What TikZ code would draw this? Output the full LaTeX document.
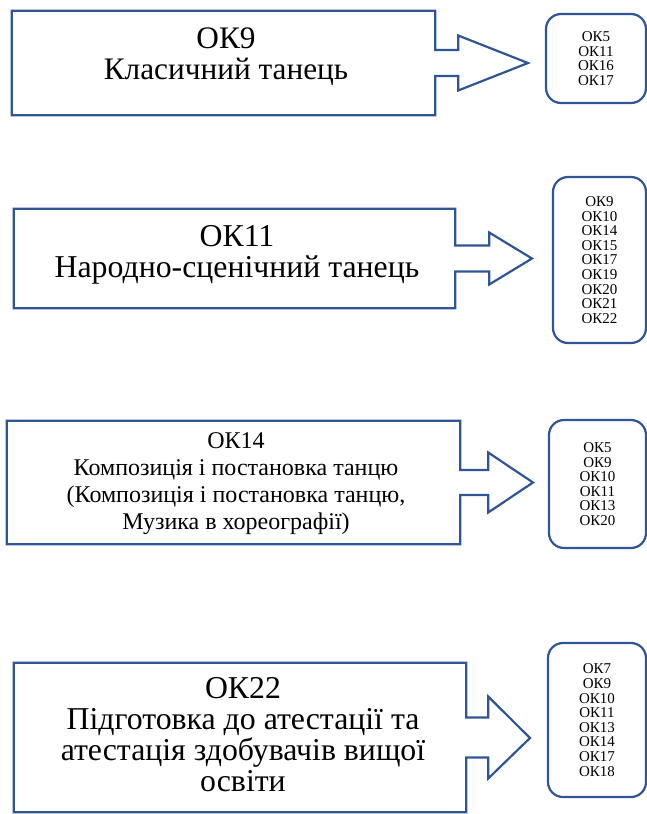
\documentclass[tikz,border=0pt]{standalone}
\usepackage{fontspec}
\setmainfont{Liberation Serif}
\usepackage{tikz}
\definecolor{ocblue}{HTML}{2F5597}
\tikzset{
	x=1pt, y=-1pt, % work in pixel-like units, y going down
	outline/.style={draw=ocblue, line width=2.2pt, line join=miter}, % rectangle with arrow
	block/.style={inner sep=0pt}, % invisible frame of the rectangle
	title/.style={align=center, inner sep=0pt, font=\rmfamily}, % text inside the rectangle
	list/.style={draw=ocblue, line width=2.2pt, rounded corners=15pt, align=center, inner sep=0pt,
		font=\rmfamily\fontsize{15}{14.6}\selectfont}, % rounded box with the codes
}
% #1 node, #2 shaft length, #3 shaft half width, #4 head half width, #5 tip
\newcommand{\arrowbox}[5]{%
	\draw[outline] (#1.north west) -- (#1.north east) -- ([yshift=#3]#1.east)
		-- ([xshift=#2,yshift=#3]#1.east) -- ([xshift=#2,yshift=#4]#1.east) -- (#5)
		-- ([xshift=#2,yshift=-#4]#1.east) -- ([xshift=#2,yshift=-#3]#1.east)
		-- ([yshift=-#3]#1.east) -- (#1.south east) -- (#1.south west) -- cycle;}

\begin{document}
\begin{tikzpicture}
	\useasboundingbox (0,0) rectangle (647,814);
	
	% OK9
	\node[block, minimum width=423pt, minimum height=104pt] (ok9) at (223.5,63) {};
	\node[title, font=\fontsize{31.3}{31}\selectfont] (ok9txt) at (226,57) {ОК9\\Класичний танець};
	\coordinate (ok9tip) at (528,63);
	\arrowbox{ok9}{23pt}{13pt}{27.5pt}{ok9tip}
	\node[list, minimum width=100pt, minimum height=89pt] (ok9list) at (596,58.5) {ОК5\\ОК11\\ОК16\\ОК17};
	
	% OK11
	\node[block, minimum width=441pt, minimum height=99pt] (ok11) at (234.5,258.5) {};
	\node[title, font=\fontsize{31.8}{31}\selectfont] (ok11txt) at (237,255) {ОК11\\Народно-сценічний танець};
	\coordinate (ok11tip) at (532,258.5);
	\arrowbox{ok11}{34pt}{13pt}{26pt}{ok11tip}
	\node[list, minimum width=93pt, minimum height=166pt] (ok11list) at (599.5,260) {ОК9\\ОК10\\ОК14\\ОК15\\ОК17\\ОК19\\ОК20\\ОК21\\ОК22};
	
	% OK14
	\node[block, minimum width=453pt, minimum height=123pt] (ok14) at (233.5,482.5) {};
	\node[title, font=\fontsize{24}{27}\selectfont] (ok14txt) at (236,484) {ОК14\\Композиція і постановка танцю\\(Композиція і постановка танцю,\\Музика в хореографії)};
	\coordinate (ok14tip) at (533,482.5);
	\arrowbox{ok14}{28pt}{12.5pt}{30pt}{ok14tip}
	\node[list, minimum width=97pt, minimum height=128pt] (ok14list) at (597.5,484) {ОК5\\ОК9\\ОК10\\ОК11\\ОК13\\ОК20};
	
	% OK22
	\node[block, minimum width=452pt, minimum height=149pt] (ok22) at (240,737.5) {};
	\node[title, font=\fontsize{31.8}{31}\selectfont] (ok22txt) at (243,735) {ОК22\\Підготовка до атестації та\\атестація здобувачів вищої\\освіти};
	\coordinate (ok22tip) at (530,738);
	\arrowbox{ok22}{22pt}{20pt}{41pt}{ok22tip}
	\node[list, minimum width=98pt, minimum height=154pt] (ok22list) at (597,720) {ОК7\\ОК9\\ОК10\\ОК11\\ОК13\\ОК14\\ОК17\\ОК18};
\end{tikzpicture}
\end{document}
